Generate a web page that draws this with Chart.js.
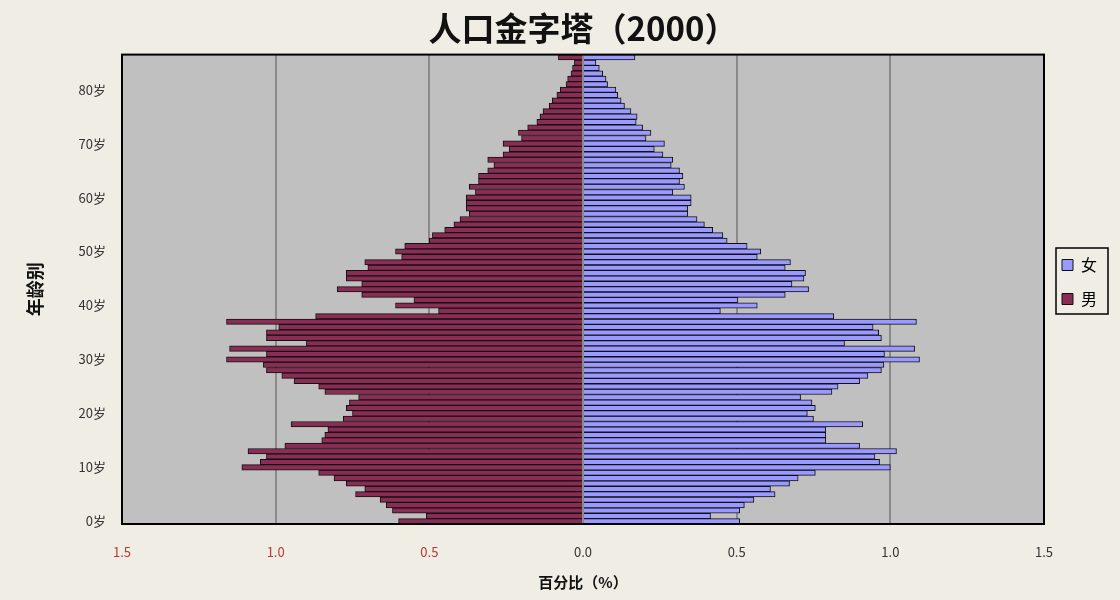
<!DOCTYPE html>
<html>
<head>
<meta charset="utf-8">
<script src="https://cdn.jsdelivr.net/npm/chart.js@4"></script>
<style>
  body { margin: 0; background: #efede4; }
  #wrap { width: 1120px; height: 600px; }
</style>
</head>
<body>
<div id="wrap"><canvas id="myChart" width="1120" height="600"></canvas></div>
<script>
// ages 0..86 (top bar is the oldest group)
const ages = [];
for (let a = 0; a <= 86; a++) ages.push(a);

// percent of total population (index = age)
const maleShare = [
  0.60, 0.51, 0.62, 0.64, 0.66, 0.74, 0.71, 0.77, 0.81, 0.86,
  1.11, 1.05, 1.03, 1.09, 0.97, 0.85, 0.84, 0.83, 0.95, 0.78,
  0.75, 0.77, 0.76, 0.73, 0.84, 0.86, 0.94, 0.98, 1.03, 1.04,
  1.16, 1.03, 1.15, 0.90, 1.03, 1.03, 0.99, 1.16, 0.87, 0.47,
  0.61, 0.55, 0.72, 0.80, 0.72, 0.77, 0.77, 0.70, 0.71, 0.59,
  0.61, 0.58, 0.50, 0.49, 0.45, 0.42, 0.40, 0.37, 0.38, 0.38,
  0.38, 0.35, 0.37, 0.34, 0.34, 0.31, 0.29, 0.31, 0.26, 0.24,
  0.26, 0.20, 0.21, 0.18, 0.15, 0.14, 0.13, 0.11, 0.10, 0.085,
  0.074, 0.055, 0.05, 0.039, 0.034, 0.028, 0.08
];
const femaleShare = [
  0.51, 0.415, 0.51, 0.525, 0.556, 0.625, 0.61, 0.672, 0.70, 0.756,
  1.00, 0.965, 0.95, 1.02, 0.90, 0.79, 0.79, 0.79, 0.91, 0.75,
  0.73, 0.756, 0.745, 0.708, 0.81, 0.83, 0.90, 0.927, 0.971, 0.979,
  1.095, 0.981, 1.079, 0.851, 0.971, 0.962, 0.944, 1.085, 0.816, 0.447,
  0.567, 0.504, 0.658, 0.734, 0.68, 0.719, 0.724, 0.658, 0.675, 0.567,
  0.578, 0.534, 0.469, 0.455, 0.422, 0.395, 0.371, 0.341, 0.341, 0.352,
  0.352, 0.292, 0.33, 0.314, 0.325, 0.314, 0.287, 0.292, 0.26, 0.232,
  0.265, 0.205, 0.221, 0.194, 0.173, 0.176, 0.156, 0.135, 0.124, 0.113,
  0.107, 0.08, 0.075, 0.064, 0.053, 0.042, 0.169
];
const xTicks = [-1.5, -1.0, -0.5, 0, 0.5, 1.0, 1.5];

const FONT = '"Noto Sans CJK SC", "Noto Sans", sans-serif';

const plotFrame = {
  id: 'plotFrame',
  beforeDraw(chart) {
    const {ctx, chartArea: a} = chart;
    ctx.save();
    ctx.fillStyle = '#c0c0c0';
    ctx.fillRect(a.left, a.top, a.right - a.left, a.bottom - a.top);
    ctx.restore();
  },
  afterDraw(chart) {
    const {ctx, chartArea: a} = chart;
    ctx.save();
    ctx.strokeStyle = '#000';
    ctx.lineWidth = 2;
    ctx.strokeRect(a.left, a.top, a.right - a.left, a.bottom - a.top);
    // box round the legend
    const boxes = chart.legend.legendHitBoxes;
    if (boxes && boxes.length) {
      let l = Infinity, t = Infinity, r = -Infinity, b = -Infinity;
      boxes.forEach(h => {
        l = Math.min(l, h.left); t = Math.min(t, h.top);
        r = Math.max(r, h.left + h.width); b = Math.max(b, h.top + h.height);
      });
      ctx.lineWidth = 1.5;
      ctx.strokeRect(l - 6, t - 9, r - l + 17, b - t + 16);
    }
    ctx.restore();
  }
};

const config = {
  type: 'bar',
  data: {
    labels: ages,
    datasets: [
      {
        label: '女',
        data: femaleShare,
        backgroundColor: '#9999ff',
        borderColor: '#111',
        borderWidth: 1
      },
      {
        label: '男',
        data: maleShare.map(v => -v),
        backgroundColor: '#8a2d55',
        borderColor: '#111',
        borderWidth: 1
      }
    ]
  },
  options: {
    indexAxis: 'y',
    responsive: false,
    animation: false,
    barPercentage: 1,
    categoryPercentage: 1,
    layout: { padding: { top: 0, right: 13, bottom: 0, left: 0 } },
    plugins: {
      title: {
        display: true,
        fullSize: false,
        text: '人口金字塔（2000）',
        color: '#111',
        font: { family: FONT, size: 33, weight: 'bold' },
        padding: { top: 9, bottom: 6 }
      },
      legend: {
        position: 'right',
        align: 'start',
        title: {
          display: true,
          text: ' ',
          font: { size: 10 },
          padding: { top: 227, bottom: 0 }
        },
        labels: {
          color: '#000',
          boxWidth: 11,
          boxHeight: 11,
          padding: 18,
          font: { family: FONT, size: 16 }
        }
      },
      tooltip: { enabled: false }
    },
    scales: {
      x: {
        stacked: true,
        min: -1.5,
        max: 1.5,
        afterBuildTicks: s => { s.ticks = xTicks.map(v => ({ value: v })); },
        afterFit: s => { s.height = 76; },
        grid: { color: '#8a8a8a', lineWidth: 2, drawTicks: false },
        border: { display: false },
        ticks: {
          padding: 20,
          font: { family: FONT, size: 13 },
          color: c => c.tick.value < 0 ? '#b23a3a' : '#333',
          callback: v => Math.abs(v).toFixed(1)
        },
        title: {
          display: true,
          text: '百分比（%）',
          color: '#111',
          font: { family: FONT, size: 15, weight: 'bold' },
          padding: { top: 0, bottom: 9 }
        }
      },
      y: {
        stacked: true,
        reverse: true,
        afterFit: s => { s.width = 122; },
        grid: { display: false, drawTicks: false },
        border: { display: false },
        ticks: {
          autoSkip: false,
          padding: 16,
          font: { family: FONT, size: 13 },
          color: '#333',
          callback: (v, i) => ages[i] % 10 === 0 ? ages[i] + '岁' : ''
        },
        title: {
          display: true,
          text: '年龄别',
          color: '#111',
          font: { family: FONT, size: 18, weight: 'bold' },
          padding: { top: 24, bottom: 0 }
        }
      }
    }
  },
  plugins: [plotFrame]
};

var myChart = new Chart(document.getElementById('myChart'), config);
</script>
</body>
</html>
